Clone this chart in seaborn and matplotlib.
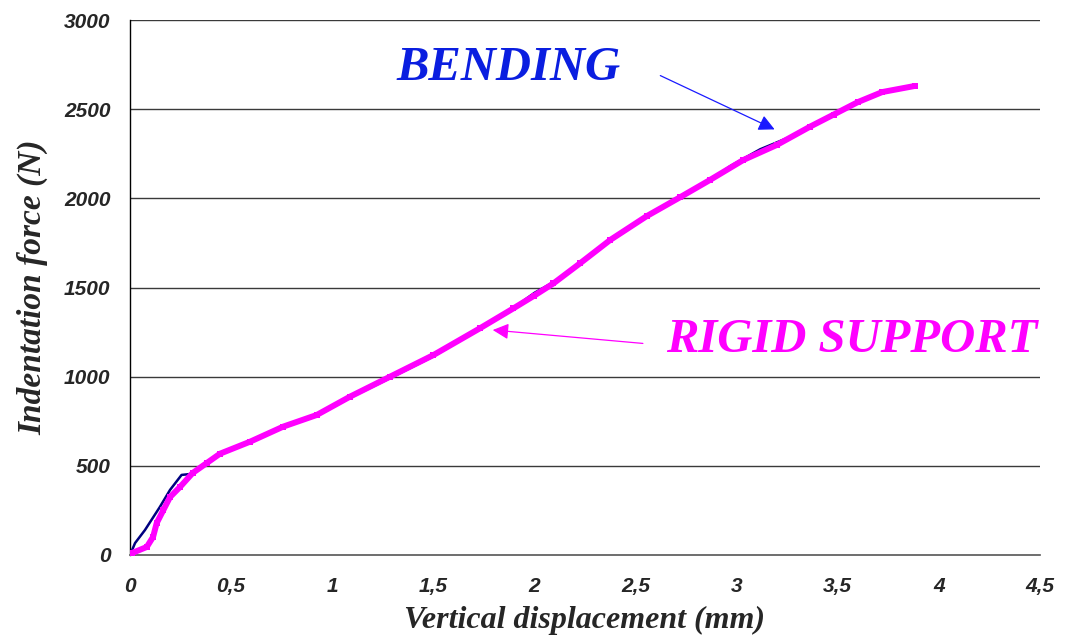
import matplotlib
matplotlib.use("Agg")
import matplotlib.pyplot as plt
import seaborn as sns
import pandas as pd

# ---- data ----
bend_x = [0.0, 0.025, 0.074, 0.148, 0.198, 0.255, 0.297, 0.346, 0.445, 0.593, 0.758,
          0.923, 1.088, 1.286, 1.50, 1.73, 1.896, 2.0, 2.094, 2.226, 2.374, 2.555,
          2.72, 2.868, 2.967, 3.116, 3.28, 3.446, 3.6, 3.72, 3.88]
bend_y = [0, 67, 140, 270, 365, 449, 454, 494, 572, 632, 716,
          780, 882, 992, 1114, 1268, 1385, 1470, 1530, 1636, 1760, 1895,
          2004, 2100, 2180, 2275, 2352, 2448, 2542, 2600, 2630]

rigid_x = [0.0, 0.01, 0.083, 0.114, 0.132, 0.165, 0.198, 0.247, 0.31, 0.38, 0.445,
           0.593, 0.758, 0.923, 1.088, 1.286, 1.50, 1.73, 1.896, 2.0, 2.094, 2.226,
           2.374, 2.555, 2.72, 2.868, 3.033, 3.198, 3.363, 3.48, 3.6, 3.72, 3.88]
rigid_y = [0, 11, 45, 101, 179, 252, 325, 381, 460, 516, 568,
           635, 720, 785, 888, 1000, 1121, 1271, 1383, 1455, 1523, 1636,
           1766, 1900, 2006, 2103, 2215, 2299, 2402, 2470, 2540, 2596, 2630]

x_ticks = [0, 0.5, 1, 1.5, 2, 2.5, 3, 3.5, 4, 4.5]
x_tick_labels = ["0", "0,5", "1", "1,5", "2", "2,5", "3", "3,5", "4", "4,5"]
y_ticks = [0, 500, 1000, 1500, 2000, 2500, 3000]
y_tick_labels = ["0", "500", "1000", "1500", "2000", "2500", "3000"]

sns.set_theme(style="white")
plt.rcParams['font.family'] = ['Liberation Sans', 'DejaVu Sans']

fig = plt.figure(figsize=(10.65, 6.39), dpi=100)
ax = fig.add_axes([130/1065, 84/639, 910/1065, 535/639])

df_b = pd.DataFrame({"x": bend_x, "y": bend_y})
df_r = pd.DataFrame({"x": rigid_x, "y": rigid_y})

sns.lineplot(data=df_b, x="x", y="y", sort=False, estimator=None, ax=ax,
             color="#000080", linewidth=1.8, zorder=3)
sns.lineplot(data=df_r, x="x", y="y", sort=False, estimator=None, ax=ax,
             color="#FF00FF", linewidth=4.3, zorder=4,
             marker="s", markersize=4, markeredgewidth=0)

ax.set_xlim(0, 4.5)
ax.set_ylim(0, 3000)
ax.set_xticks(x_ticks)
ax.set_xticklabels(x_tick_labels)
ax.set_yticks(y_ticks)
ax.set_yticklabels(y_tick_labels)

for y in y_ticks[1:]:
    ax.axhline(y, color="#3a3a3a", linewidth=1.0, zorder=1)

for s in ["top", "right"]:
    ax.spines[s].set_visible(False)
ax.spines["left"].set_color("black")
ax.spines["bottom"].set_color("#555555")
ax.spines["left"].set_linewidth(1.0)
ax.spines["bottom"].set_linewidth(1.2)

ax.tick_params(axis="both", which="major", direction="out", length=6, width=1,
               color="#333333", labelsize=15, pad=8)
ax.tick_params(axis="x", pad=10)
for lab in ax.get_xticklabels() + ax.get_yticklabels():
    lab.set_fontweight("bold")
    lab.set_fontstyle("italic")
    lab.set_family(["Liberation Sans", "DejaVu Sans"])

serif = ["Liberation Serif", "DejaVu Serif"]
ax.set_xlabel("Vertical displacement (mm)", fontsize=23, fontweight="bold",
              fontstyle="italic", family=serif, labelpad=7)
ax.set_ylabel("Indentation force (N)", fontsize=24, fontweight="bold",
              fontstyle="italic", family=serif, labelpad=11)

ax.annotate("", xy=(3.2, 2380), xytext=(2.61, 2695),
            arrowprops=dict(arrowstyle="-|>,head_length=0.8,head_width=0.4",
                            color="#1a1aff", lw=0.9), zorder=5)
ax.text(1.87, 2730, "BENDING", color="#0a1ee0", fontsize=35, fontweight="bold",
        fontstyle="italic", family=serif, ha="center", va="center")

ax.annotate("", xy=(1.78, 1263), xytext=(2.55, 1185),
            arrowprops=dict(arrowstyle="-|>,head_length=0.8,head_width=0.4",
                            color="#FF00FF", lw=0.9), zorder=5)
ax.text(3.57, 1205, "RIGID SUPPORT", color="#FF00FF", fontsize=35, fontweight="bold",
        fontstyle="italic", family=serif, ha="center", va="center")

fig.savefig("out.png", dpi=100)
